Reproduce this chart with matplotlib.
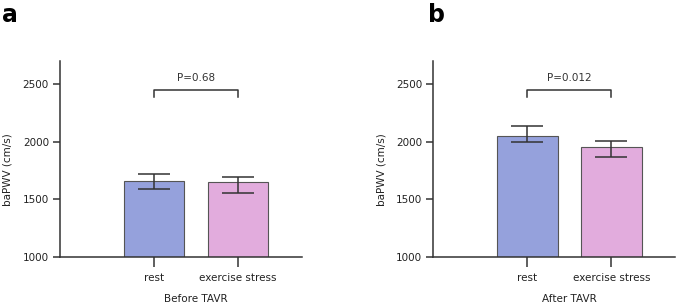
import matplotlib
matplotlib.use('Agg')
import numpy as np
import matplotlib.pyplot as plt

# data
conditions = ['rest', 'exercise stress']
panels = ['a', 'b']
xlabels = ['Before TAVR', 'After TAVR']
means = [[1656, 1647], [2052, 1953]]
err_low = [[1584, 1552], [1996, 1867]]
err_high = [[1719, 1688], [2133, 2003]]
p_values = ['P=0.68', 'P=0.012']

bar_colors = ['#95a1dc', '#e2acdd']
line_col = '#333333'

plt.rcParams['font.family'] = ['DejaVu Sans']
plt.rcParams['font.size'] = 7.5

fig = plt.figure(figsize=(6.77, 3.04), dpi=100)
lefts = [60 / 677, 433.3 / 677]
width = 242 / 677
bottom = 1 - 256.7 / 304
height = (256.7 - 61) / 304

x = np.arange(len(conditions))
for i in range(2):
    ax = fig.add_axes([lefts[i], bottom, width, height])
    m = np.array(means[i])
    lo = m - np.array(err_low[i])
    hi = np.array(err_high[i]) - m
    ax.bar(x, m - 1000, bottom=1000, width=0.726, color=bar_colors,
           edgecolor='#555555', linewidth=0.8, zorder=2)
    ax.errorbar(x, m, yerr=[lo, hi], fmt='none', ecolor=line_col,
                elinewidth=1.1, capsize=11.8, capthick=1.1, zorder=3)

    # significance bracket
    ax.plot([0, 0, 1, 1], [2385, 2450, 2450, 2385], color=line_col, lw=1.1,
            clip_on=False)
    ax.text(0.5, 2530, p_values[i], ha='center', va='baseline', color=line_col)

    ax.set_xlim(-1.119, 1.762)
    ax.set_ylim(1000, 2700)
    ax.set_yticks([1000, 1500, 2000, 2500])
    ax.set_xticks(x)
    ax.set_xticklabels(conditions)
    for s in ['top', 'right']:
        ax.spines[s].set_visible(False)
    for s in ['left', 'bottom']:
        ax.spines[s].set_color(line_col)
        ax.spines[s].set_linewidth(1.1)
    ax.tick_params(axis='x', length=7, width=1.1, color=line_col, pad=5,
                   labelcolor='#222222')
    ax.tick_params(axis='y', length=5, width=1.1, color=line_col, pad=3,
                   labelcolor='#222222')
    ax.set_ylabel('baPWV (cm/s)', color='#222222')
    ax.yaxis.set_label_coords(-0.195, 0.444)
    ax.text(0.5, -0.215, xlabels[i], transform=ax.get_xaxis_transform(),
            ha='center', va='center', color='#222222')

    fig.text([2 / 677, 428 / 677][i], 1 - 22 / 304, panels[i],
             fontsize=17, fontweight='bold', va='baseline', ha='left')

fig.savefig('out.png', dpi=100)
